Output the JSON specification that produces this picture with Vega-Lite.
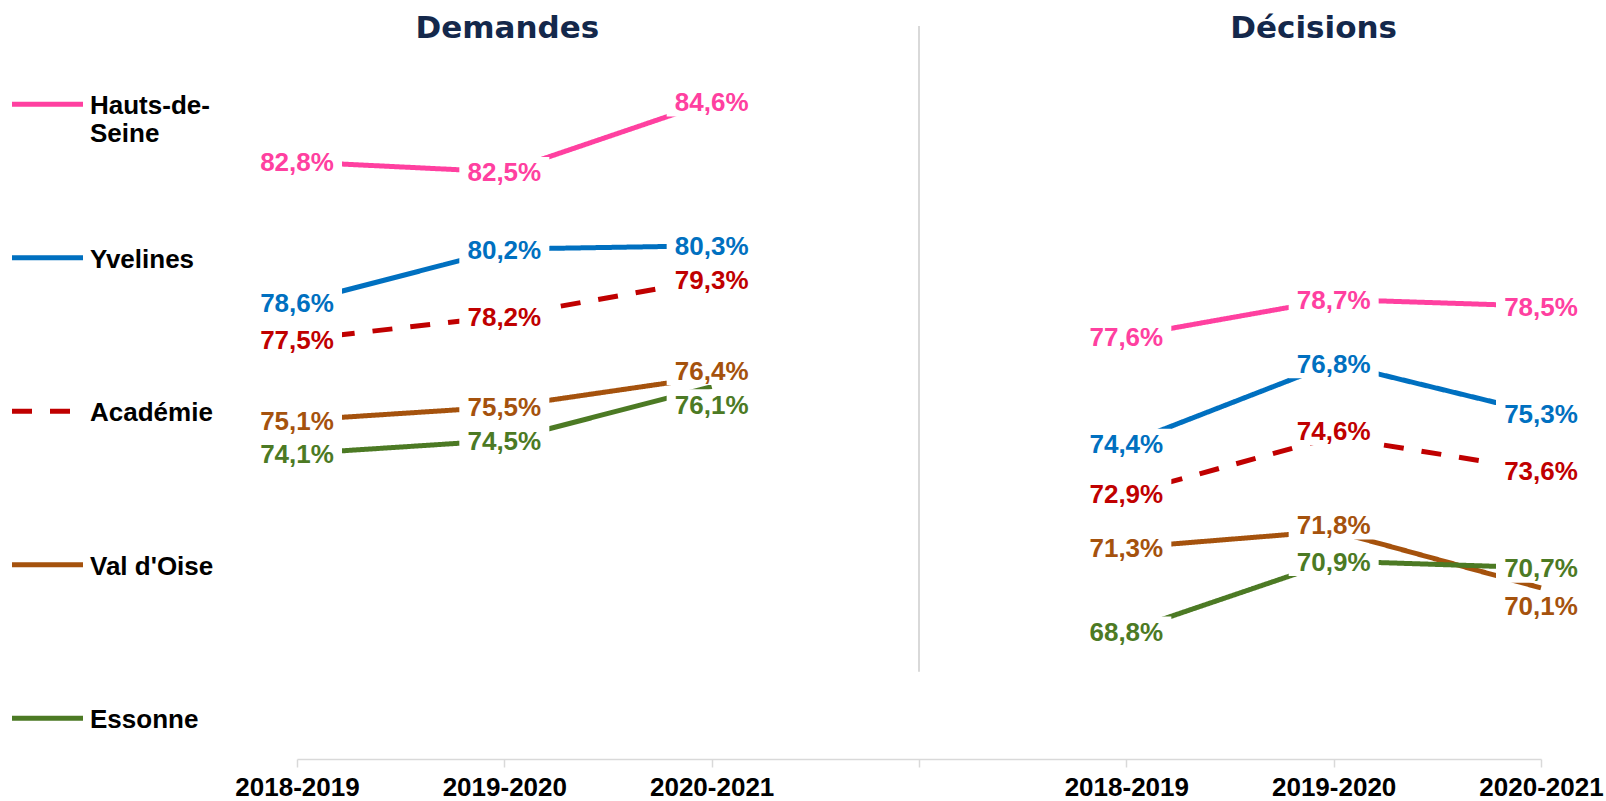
{
  "$schema": "https://vega.github.io/schema/vega-lite/v6.json",
  "width": 1244,
  "height": 738,
  "autosize": {"type": "none"},
  "padding": {"left": 297, "top": 21, "right": 65, "bottom": 42},
  "background": "white",
  "config": {"view": {"stroke": null}, "font": "Liberation Sans"},
  "datasets": {
    "taux": [
      {"panel": "Demandes", "annee": "2018-2019", "serie": "Hauts-de-Seine", "valeur": 82.8},
      {"panel": "Demandes", "annee": "2019-2020", "serie": "Hauts-de-Seine", "valeur": 82.5},
      {"panel": "Demandes", "annee": "2020-2021", "serie": "Hauts-de-Seine", "valeur": 84.6},
      {"panel": "Demandes", "annee": "2018-2019", "serie": "Yvelines", "valeur": 78.6},
      {"panel": "Demandes", "annee": "2019-2020", "serie": "Yvelines", "valeur": 80.2},
      {"panel": "Demandes", "annee": "2020-2021", "serie": "Yvelines", "valeur": 80.3},
      {"panel": "Demandes", "annee": "2018-2019", "serie": "Académie", "valeur": 77.5},
      {"panel": "Demandes", "annee": "2019-2020", "serie": "Académie", "valeur": 78.2},
      {"panel": "Demandes", "annee": "2020-2021", "serie": "Académie", "valeur": 79.3},
      {"panel": "Demandes", "annee": "2018-2019", "serie": "Val d'Oise", "valeur": 75.1},
      {"panel": "Demandes", "annee": "2019-2020", "serie": "Val d'Oise", "valeur": 75.5},
      {"panel": "Demandes", "annee": "2020-2021", "serie": "Val d'Oise", "valeur": 76.4},
      {"panel": "Demandes", "annee": "2018-2019", "serie": "Essonne", "valeur": 74.1},
      {"panel": "Demandes", "annee": "2019-2020", "serie": "Essonne", "valeur": 74.5},
      {"panel": "Demandes", "annee": "2020-2021", "serie": "Essonne", "valeur": 76.1},
      {"panel": "Décisions", "annee": "2018-2019", "serie": "Hauts-de-Seine", "valeur": 77.6},
      {"panel": "Décisions", "annee": "2019-2020", "serie": "Hauts-de-Seine", "valeur": 78.7},
      {"panel": "Décisions", "annee": "2020-2021", "serie": "Hauts-de-Seine", "valeur": 78.5},
      {"panel": "Décisions", "annee": "2018-2019", "serie": "Yvelines", "valeur": 74.4},
      {"panel": "Décisions", "annee": "2019-2020", "serie": "Yvelines", "valeur": 76.8},
      {"panel": "Décisions", "annee": "2020-2021", "serie": "Yvelines", "valeur": 75.3},
      {"panel": "Décisions", "annee": "2018-2019", "serie": "Académie", "valeur": 72.9},
      {"panel": "Décisions", "annee": "2019-2020", "serie": "Académie", "valeur": 74.6},
      {"panel": "Décisions", "annee": "2020-2021", "serie": "Académie", "valeur": 73.6},
      {"panel": "Décisions", "annee": "2018-2019", "serie": "Val d'Oise", "valeur": 71.3},
      {"panel": "Décisions", "annee": "2019-2020", "serie": "Val d'Oise", "valeur": 71.8},
      {"panel": "Décisions", "annee": "2020-2021", "serie": "Val d'Oise", "valeur": 70.1},
      {"panel": "Décisions", "annee": "2018-2019", "serie": "Essonne", "valeur": 68.8},
      {"panel": "Décisions", "annee": "2019-2020", "serie": "Essonne", "valeur": 70.9},
      {"panel": "Décisions", "annee": "2020-2021", "serie": "Essonne", "valeur": 70.7}
    ],
    "titres": [
      {"titre": "Demandes"},
      {"titre": "Décisions"}
    ]
  },
  "encoding": {
    "x": {
      "field": "cle",
      "type": "nominal",
      "scale": {
        "type": "point",
        "padding": 0,
        "domain": ["Demandes|2018-2019", "Demandes|2019-2020", "Demandes|2020-2021", "sep", "Décisions|2018-2019", "Décisions|2019-2020", "Décisions|2020-2021"]
      },
      "axis": {
        "title": null,
        "labelExpr": "datum.value == 'sep' ? '' : split(datum.value, '|')[1]",
        "labelAngle": 0,
        "labelFont": "Liberation Sans",
        "labelFontSize": 26,
        "labelFontWeight": "bold",
        "labelColor": "#000000",
        "labelPadding": 7,
        "labelOverlap": false,
        "labelBaseline": "top",
        "tickSize": 8,
        "tickColor": "#d9d9d9",
        "tickWidth": 1.5,
        "domainColor": "#d9d9d9",
        "domainWidth": 1.5,
        "grid": false
      }
    }
  },
  "layer": [
    {
      "data": {"values": [{"cle": "sep"}]},
      "mark": {"type": "rule", "color": "#d9d9d9", "strokeWidth": 2},
      "encoding": {
        "y": {"datum": 86.85, "type": "quantitative", "scale": {"domain": [65, 87], "nice": false, "zero": false}, "axis": null},
        "y2": {"datum": 67.6}
      }
    },
    {
      "data": {"name": "taux"},
      "transform": [
        {"calculate": "datum.panel + '|' + datum.annee", "as": "cle"},
        {"calculate": "replace(format(datum.valeur, '.1f'), '.', ',') + '%'", "as": "texte"},
        {"calculate": "((datum.serie == 'Essonne' && datum.panel == 'Demandes' && datum.annee == '2020-2021') || (datum.serie == \"Val d'Oise\" && datum.panel == 'Décisions' && datum.annee == '2020-2021')) ? 'b' : (((datum.serie == \"Val d'Oise\" || datum.serie == 'Académie') && datum.panel == 'Décisions' && datum.annee == '2019-2020') || (datum.serie == \"Val d'Oise\" && datum.panel == 'Demandes' && datum.annee == '2020-2021')) ? 'a' : 'c'", "as": "lbl"}
      ],
      "encoding": {
        "y": {"field": "valeur", "type": "quantitative", "scale": {"domain": [65, 87], "nice": false, "zero": false}, "axis": null}
      },
      "layer": [
        {
          "mark": {"type": "line", "strokeWidth": 5, "strokeCap": "butt", "strokeJoin": "round"},
          "encoding": {
            "color": {
              "field": "serie",
              "type": "nominal",
              "scale": {"domain": ["Hauts-de-Seine", "Yvelines", "Académie", "Val d'Oise", "Essonne"], "range": ["#FF40A0", "#0070C0", "#C00000", "#A5520D", "#4C7A24"]},
              "legend": {
                "title": null, "orient": "none", "legendX": -287.5, "legendY": 34, "padding": 0,
                "symbolType": "M-1,0.315L1,0.315", "symbolSize": 5041, "symbolStrokeWidth": 5,
                "labelFont": "Liberation Sans", "labelFontSize": 26, "labelFontWeight": "bold", "labelColor": "#000000",
                "labelBaseline": "top", "labelOffset": 4.5, "labelLimit": 400, "rowPadding": 61.5,
                "labelExpr": "datum.label == 'Hauts-de-Seine' ? ['Hauts-de-', 'Seine'] : [datum.label, '']"
              }
            },
            "strokeDash": {
              "field": "serie",
              "type": "nominal",
              "scale": {"domain": ["Hauts-de-Seine", "Yvelines", "Académie", "Val d'Oise", "Essonne"], "range": [[1, 0], [1, 0], [20, 18], [1, 0], [1, 0]]},
              "legend": {
                "title": null, "orient": "none", "legendX": -287.5, "legendY": 34, "padding": 0,
                "symbolType": "M-1,0.315L1,0.315", "symbolSize": 5041, "symbolStrokeWidth": 5,
                "labelFont": "Liberation Sans", "labelFontSize": 26, "labelFontWeight": "bold", "labelColor": "#000000",
                "labelBaseline": "top", "labelOffset": 4.5, "labelLimit": 400, "rowPadding": 61.5,
                "labelExpr": "datum.label == 'Hauts-de-Seine' ? ['Hauts-de-', 'Seine'] : [datum.label, '']"
              }
            },
            "detail": {"field": "panel"}
          }
        },
        {
          "transform": [{"filter": "datum.lbl == 'c'"}],
          "mark": {"type": "point", "shape": "M-1,-0.333L1,-0.333L1,0.333L-1,0.333Z", "size": 8100, "filled": true, "color": "white", "opacity": 1, "strokeWidth": 0}
        },
        {
          "transform": [{"filter": "datum.lbl == 'a'"}],
          "mark": {"type": "point", "shape": "M-1,-0.478L1,-0.478L1,0.189L-1,0.189Z", "size": 8100, "filled": true, "color": "white", "opacity": 1, "strokeWidth": 0}
        },
        {
          "transform": [{"filter": "datum.lbl == 'b'"}],
          "mark": {"type": "point", "shape": "M-1,0.056L1,0.056L1,0.722L-1,0.722Z", "size": 8100, "filled": true, "color": "white", "opacity": 1, "strokeWidth": 0}
        },
        {
          "transform": [{"filter": "datum.lbl == 'c'"}],
          "mark": {"type": "text", "font": "Liberation Sans", "fontSize": 26, "fontWeight": "bold", "baseline": "middle", "dy": 1.5},
          "encoding": {"text": {"field": "texte"}, "color": {"field": "serie", "type": "nominal", "legend": null}}
        },
        {
          "transform": [{"filter": "datum.lbl == 'a'"}],
          "mark": {"type": "text", "font": "Liberation Sans", "fontSize": 26, "fontWeight": "bold", "baseline": "middle", "dy": -5},
          "encoding": {"text": {"field": "texte"}, "color": {"field": "serie", "type": "nominal", "legend": null}}
        },
        {
          "transform": [{"filter": "datum.lbl == 'b'"}],
          "mark": {"type": "text", "font": "Liberation Sans", "fontSize": 26, "fontWeight": "bold", "baseline": "middle", "dy": 19},
          "encoding": {"text": {"field": "texte"}, "color": {"field": "serie", "type": "nominal", "legend": null}}
        }
      ]
    },
    {
      "data": {"name": "titres"},
      "transform": [{"calculate": "datum.titre + '|2019-2020'", "as": "cle"}],
      "encoding": {
        "y": {"datum": 86.76, "type": "quantitative", "scale": {"domain": [65, 87], "nice": false, "zero": false}, "axis": null},
        "text": {"field": "titre"}
      },
      "layer": [
        {
          "transform": [{"filter": "datum.titre == 'Demandes'"}],
          "mark": {"type": "text", "font": "DejaVu Sans", "fontSize": 31, "fontWeight": "bold", "color": "#14284B", "baseline": "middle", "dx": 3}
        },
        {
          "transform": [{"filter": "datum.titre == 'Décisions'"}],
          "mark": {"type": "text", "font": "DejaVu Sans", "fontSize": 31, "fontWeight": "bold", "color": "#14284B", "baseline": "middle", "dx": -20}
        }
      ]
    }
  ]
}
